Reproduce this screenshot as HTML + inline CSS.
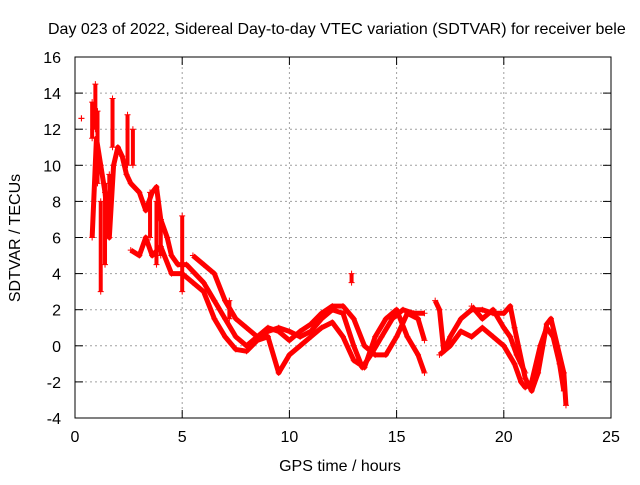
<!DOCTYPE html>
<html><head><meta charset="utf-8"><style>
body{margin:0;background:#fff}
svg{font-family:"Liberation Sans",sans-serif}
</style></head><body>
<svg id="chart" width="640" height="480" viewBox="0 0 640 480">
<text x="48" y="34" font-size="16" fill="#000">Day 023 of 2022, Sidereal Day-to-day VTEC variation (SDTVAR) for receiver bele</text>
<text x="340" y="471" font-size="16" text-anchor="middle">GPS time / hours</text>
<text transform="translate(20,238) rotate(-90)" font-size="16" text-anchor="middle">SDTVAR / TECUs</text>
<g id="grid"></g><g id="ticks"></g><g id="marks"></g>
<rect x="75" y="57" width="536" height="361" fill="none" stroke="#000" stroke-width="1"/>
</svg>
<script>
const xTicks=[0,5,10,15,20,25];
const yTicks=[-4,-2,0,2,4,6,8,10,12,14,16];
const bandA=[[0.8,6],[1.0,11.5],[1.2,10],[1.4,8.5],[1.6,6],[1.8,10],[2.0,11],[2.2,10.5],[2.4,9.5],[2.6,9],[3.0,8.5],[3.3,7.5],[3.6,8.5],[3.8,8.8],[4.0,7],[4.3,6],[4.5,5],[4.8,4.5],[5.2,4.5],[5.6,4],[6.0,3.5],[6.5,2.5],[7.0,1.5],[7.5,0.5],[8.0,0],[8.5,0.5],[9.0,0.8],[9.5,1],[10,0.8],[10.5,0.5],[11,0.8],[11.5,1.5],[12,2],[12.5,1.8],[13,0],[13.4,-1.2],[13.8,-0.5],[14.3,0.5],[14.8,1.5],[15.3,2],[15.8,1.8],[16.3,1.8]];
const bandB=[[2.6,5.3],[3.0,5],[3.3,6],[3.6,5],[4.0,5.5],[4.5,4],[5,4],[5.5,3.5],[6,3],[6.5,1.5],[7,0.5],[7.5,-0.2],[8,-0.3],[8.5,0.3],[9,0.5],[9.5,-1.5],[10,-0.5],[10.5,0],[11,0.5],[11.5,1],[12,1.3],[12.5,0.5],[13,-0.8],[13.5,-1.2],[14,0.5],[14.5,1.5],[15,2],[15.5,0.5],[16,-0.5],[16.3,-1.5]];
const bandC=[[5.5,5],[6,4.5],[6.5,4],[7,2.5],[7.5,1.5],[8,1],[8.5,0.5],[9,1],[9.5,0.8],[10,0.3],[10.5,0.8],[11,1.2],[11.5,1.8],[12,2.2],[12.5,2.2],[13,1.5],[13.5,0],[14,-0.5],[14.5,-0.5],[15,0.5],[15.5,1.8],[16,1.5],[16.3,0.3]];
const bandD=[[16.8,2.5],[17,2],[17.2,-0.3],[17.5,0.5],[18,1.5],[18.5,2],[19,2],[19.5,1.8],[20,1.8],[20.3,2.2],[20.5,1],[21,-1.8],[21.3,-2.5],[21.6,-1.5],[22,1.2],[22.2,1.5],[22.5,0],[22.8,-1.5],[22.9,-3.3]];
const bandE=[[17,-0.5],[17.5,0],[18,0.8],[18.5,0.5],[19,1],[19.5,0.5],[20,0],[20.5,-1],[20.8,-2],[21,-2.3],[21.3,-2],[21.7,0],[22,1],[22.3,0.5],[22.6,-1],[22.8,-2.5]];
const bandF=[[18.5,2.2],[19,1.5],[19.5,2],[20,1],[20.3,0.5],[20.6,-0.5],[21,-1.5]];
const spikes=[[0.3,12.6,12.6],[0.8,11.5,13.5],[0.95,12,14.5],[1.05,9,13],[1.2,3,8],[1.4,4.5,9],[1.6,6,9.5],[1.75,11,13.7],[2.45,10,12.8],[2.7,10,12],[3.5,6,8.5],[3.8,4.5,8],[4.0,5,7],[5.0,3,7.2],[7.2,1.5,2.5],[12.9,3.5,4]];
const xs=v=>75+v*536/25, ys=v=>418-(v+4)*361/20;
const NS='http://www.w3.org/2000/svg';
const mk=(t,a,p)=>{const e=document.createElementNS(NS,t);for(const k in a)e.setAttribute(k,a[k]);p.appendChild(e);return e;};
const grid=document.getElementById('grid'),ticks=document.getElementById('ticks'),marks=document.getElementById('marks');
xTicks.forEach(t=>{const x=xs(t);
 if(t>0&&t<25){const g=mk('line',{x1:x,x2:x,y1:57,y2:418,stroke:'#a0a0a0','stroke-dasharray':'2,3'},grid);}
 mk('line',{x1:x,x2:x,y1:418,y2:410,stroke:'#000'},ticks);mk('line',{x1:x,x2:x,y1:57,y2:65,stroke:'#000'},ticks);
 const l=mk('text',{x:x,y:442,'font-size':16,'text-anchor':'middle'},ticks);l.textContent=t;
 });
yTicks.forEach(t=>{const y=ys(t);
 if(t>-4&&t<16){const g=mk('line',{x1:75,x2:611,y1:y,y2:y,stroke:'#a0a0a0','stroke-dasharray':'2,3'},grid);}
 mk('line',{x1:75,x2:83,y1:y,y2:y,stroke:'#000'},ticks);mk('line',{x1:603,x2:611,y1:y,y2:y,stroke:'#000'},ticks);
 const l=mk('text',{x:61,y:y+6,'font-size':16,'text-anchor':'end'},ticks);l.textContent=t;
 });
function plus(x,y){mk('path',{d:`M${x-3},${y}h6M${x},${y-3}v6`,stroke:'#f00','stroke-width':1},marks);}
[bandA,bandB,bandC,bandD,bandE,bandF].forEach((b,i)=>{
 const pl=mk('polyline',{points:b.map(p=>xs(p[0])+','+ys(p[1])).join(' '),fill:'none',stroke:'#f00','stroke-width':5,'stroke-linejoin':'round'},marks);
 
 b.forEach(p=>plus(xs(p[0]),ys(p[1])));});
spikes.forEach(s=>{const x=xs(s[0]);
 const l=mk('line',{x1:x,x2:x,y1:ys(s[1]),y2:ys(s[2]),stroke:'#f00','stroke-width':4},marks);
 
 plus(x,ys(s[1]));plus(x,ys(s[2]));});
</script>
</body></html>
